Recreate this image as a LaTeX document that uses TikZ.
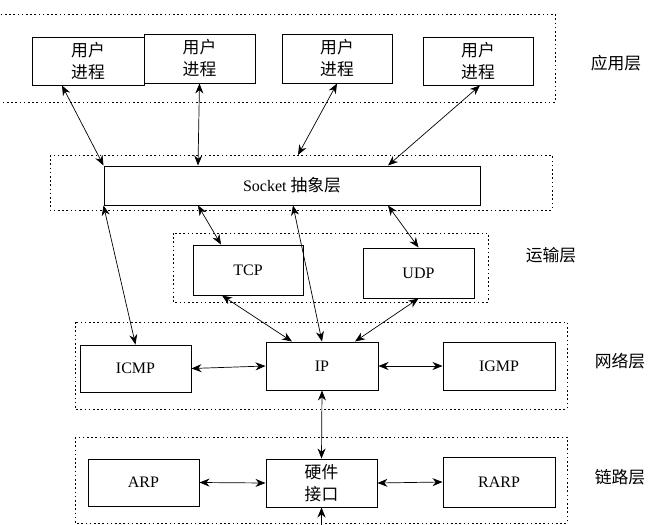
\documentclass[tikz,border=0pt]{standalone}
\usepackage{fontspec}
\setmainfont{Liberation Serif}
\newfontfamily\cjk[Scale=1.05]{Noto Sans CJK SC}
\usepackage{tikz}
\usetikzlibrary{arrows.meta}
\tikzset{
  box/.style={draw,line width=1pt,inner sep=0pt,align=center,minimum width=#1,minimum height=48pt},
  box/.default=111pt,
  layer/.style={line width=0.9pt,dash pattern=on 1.6pt off 2.6pt},
  link/.style={line width=0.7pt,{Stealth[length=10pt,width=8pt]}-{Stealth[length=10pt,width=8pt]}},
  lbl/.style={font=\fontsize{16}{22}\selectfont\cjk}
}
\begin{document}
\begin{tikzpicture}[x=1pt,y=-1pt,font=\fontsize{16}{22}\selectfont]
\useasboundingbox (0,0) rectangle (670,525);
\clip (0,0) rectangle (670,525);
\draw[layer](-10,14)rectangle(555,102);
\draw[layer](50,155)rectangle(552,210);
\draw[layer](173,233)rectangle(488,302);
\draw[layer](75,322)rectangle(567,409);
\draw[layer](75,437)rectangle(567,523);
\node[box=112pt](u1)at(88,61){\cjk 用户\\\cjk 进程};
\node[box,minimum height=49pt](u2)at(199.5,58.5){\cjk 用户\\\cjk 进程};
\node[box=110pt,minimum height=49pt](u3)at(337,58.5){\cjk 用户\\\cjk 进程};
\node[box=110pt](u4)at(478,61){\cjk 用户\\\cjk 进程};
\node[box=376pt,minimum height=39pt](sock)at(292,185.5){Socket {\cjk 抽象层}};
\node[box=110pt,minimum height=50pt](tcp)at(248,270){TCP};
\node[box,minimum height=50pt](udp)at(418.5,273){UDP};
\node[box,minimum height=47pt](icmp)at(135.5,368.5){ICMP};
\node[box=112pt](ip)at(322,366){IP};
\node[box=112pt](igmp)at(499,366){IGMP};
\node[box,minimum height=47pt](arp)at(143.5,482.5){ARP};
\node[box](hw)at(321.5,483){\cjk 硬件\\\cjk 接口};
\node[box=112pt,minimum height=50pt](rarp)at(499,482){RARP};
\node[lbl](l1)at(616,63){应用层};
\node[lbl](l2)at(551,255){运输层};
\node[lbl](l3)at(620,361){网络层};
\node[lbl](l4)at(620,477){链路层};
\coordinate(s3)at(298,155);
\coordinate(bot)at(321.5,540);
\draw[link]([xshift=-26pt]u1.south)--(sock.north west);
\draw[link](u2.south)--([xshift=-94pt]sock.north);
\draw[link](u3.south)--(s3);
\draw[link]([xshift=2pt]u4.south)--([xshift=96pt]sock.north);
\draw[link]([xshift=-94pt]sock.south)--([xshift=-27pt]tcp.north);
\draw[link]([xshift=96pt]sock.south)--(udp.north);
\draw[link]([xshift=1pt]sock.south)--(ip.north);
\draw[link](sock.south west)--(icmp.north);
\draw[link]([xshift=-26pt]tcp.south)--([xshift=-30pt]ip.north);
\draw[link](udp.south)--([xshift=33pt]ip.north);
\draw[link](icmp.east)--(ip.west);
\draw[link](ip.east)--(igmp.west);
\draw[link](ip.south)--(hw.north);
\draw[link](arp.east)--(hw.west);
\draw[link](hw.east)--(rarp.west);
\draw[link,{Stealth[length=10pt,width=8pt]}-](hw.south)--(bot);
\end{tikzpicture}
\end{document}
